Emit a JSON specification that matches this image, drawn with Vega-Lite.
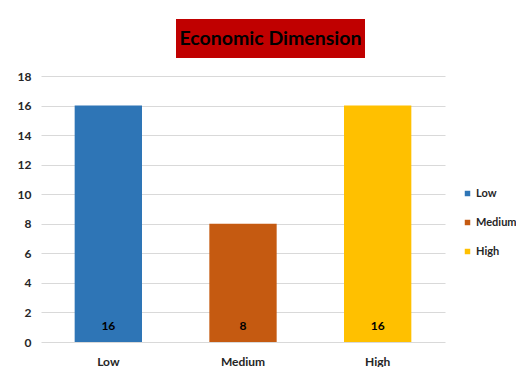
{
  "$schema": "https://vega.github.io/schema/vega-lite/v6.json",
  "padding": {"left": 17, "top": 19, "right": 0, "bottom": 0},
  "background": "white",
  "spacing": 12,
  "config": {
    "font": "Lato",
    "view": {"stroke": null},
    "axisY": {"ticks": false, "domain": false, "labelPadding": 10, "gridColor": "#D9D9D9", "gridWidth": 1,
              "labelFont": "Lato", "labelFontWeight": "bold", "labelFontSize": 12, "labelColor": "#262626"}
  },
  "vconcat": [
    {
      "spacing": 0,
      "hconcat": [
        {
          "width": 135,
          "height": 39,
          "data": {"values": []},
          "mark": "point"
        },
        {
          "width": 189,
          "height": 39,
          "view": {"fill": "#C00000", "stroke": null},
          "data": {"values": [{"heading": "Economic Dimension"}]},
          "mark": {"type": "text", "font": "Lato", "fontWeight": "bold", "fontSize": 19.5, "color": "#000000", "baseline": "middle", "align": "center"},
          "encoding": {"text": {"field": "heading"}}
        }
      ]
    },
    {
      "width": 404,
      "height": 266,
      "data": {"values": [
        {"level": "Low", "count": 16},
        {"level": "Medium", "count": 8},
        {"level": "High", "count": 16}
      ]},
      "encoding": {
        "x": {
          "field": "level", "type": "nominal", "sort": ["Low", "Medium", "High"],
          "scale": {"paddingInner": 0.5, "paddingOuter": 0.25},
          "axis": {"title": null, "labelAngle": 0, "ticks": false, "domain": false, "labelPadding": 14,
                   "labelFont": "Lato", "labelFontWeight": "bold", "labelFontSize": 12, "labelColor": "#262626"}
        }
      },
      "layer": [
        {
          "mark": {"type": "bar"},
          "encoding": {
            "y": {
              "field": "count", "type": "quantitative",
              "scale": {"domain": [0, 18]},
              "axis": {"title": null, "values": [0, 2, 4, 6, 8, 10, 12, 14, 16, 18]}
            },
            "color": {
              "field": "level", "type": "nominal", "sort": ["Low", "Medium", "High"],
              "scale": {"domain": ["Low", "Medium", "High"], "range": ["#2E75B6", "#C55A11", "#FFC000"]},
              "legend": {
                "title": null, "orient": "none", "legendX": 421, "legendY": 169,
                "symbolType": "square", "symbolSize": 30, "symbolStrokeWidth": 0, "labelOffset": 3,
                "rowPadding": 17, "labelFont": "Lato", "labelFontWeight": "bold", "labelFontSize": 11,
                "labelColor": "#262626"
              }
            }
          }
        },
        {
          "mark": {"type": "text", "font": "Lato", "fontWeight": "bold", "fontSize": 12, "color": "#000000", "baseline": "middle", "dy": -16},
          "encoding": {
            "y": {"datum": 0, "type": "quantitative", "axis": {"title": null, "values": [0, 2, 4, 6, 8, 10, 12, 14, 16, 18]}},
            "text": {"field": "count", "type": "quantitative"}
          }
        }
      ]
    }
  ]
}
